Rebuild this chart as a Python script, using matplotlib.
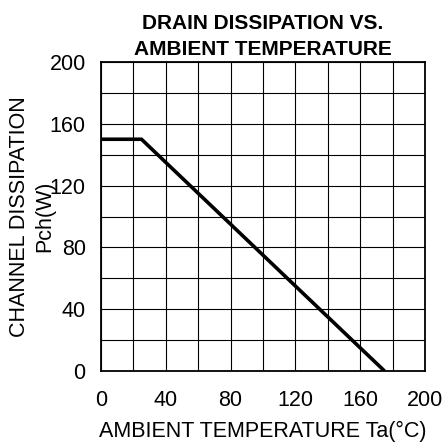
import numpy as np
import matplotlib.pyplot as plt

plt.rcParams['font.family'] = ['Liberation Sans', 'DejaVu Sans']

# derating curve
temp = [0, 25, 175]
power = [150, 150, 0]

xticks = [0, 40, 80, 120, 160, 200]
yticks = [0, 40, 80, 120, 160, 200]

fig = plt.figure(figsize=(4.44, 4.42), dpi=100)
ax = fig.add_axes([101 / 444, 1 - 371 / 442, 324 / 444, 309 / 442])

ax.plot(temp, power, color='black', lw=2.6, solid_capstyle='butt', zorder=3)

ax.set_xlim(0, 200)
ax.set_ylim(0, 200)
ax.set_xticks(xticks)
ax.set_yticks(yticks)
ax.set_xticks(np.arange(0, 201, 20), minor=True)
ax.set_yticks(np.arange(0, 201, 20), minor=True)
ax.grid(True, which='both', color='black', lw=0.8)
ax.tick_params(which='both', length=0, labelsize=15.5)
ax.tick_params(axis='x', pad=14)
ax.tick_params(axis='y', pad=11)
for s in ax.spines.values():
    s.set_linewidth(1.3)

ax.set_xlabel('AMBIENT TEMPERATURE Ta(°C)', fontsize=15.5, labelpad=7)
ax.set_ylabel('CHANNEL DISSIPATION\nPch(W)', fontsize=15.5, linespacing=1.3)
ax.yaxis.set_label_coords(-0.14, 0.5)
ax.set_title('DRAIN DISSIPATION VS.\nAMBIENT TEMPERATURE', fontsize=15,
             fontweight='bold', pad=5, linespacing=1.45)

fig.savefig('out.png', dpi=100)
